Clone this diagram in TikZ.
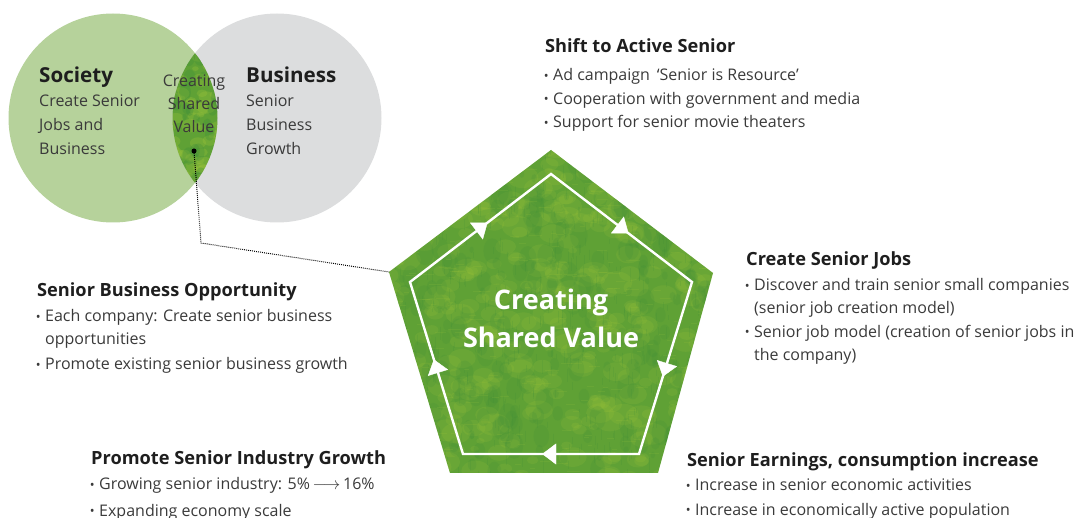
\documentclass[tikz,border=0pt]{standalone}
\usepackage{graphicx}
\usepackage{fontspec}
\setmainfont{Open Sans}
\usetikzlibrary{decorations.markings,arrows.meta}

\definecolor{society}{HTML}{B6D29B}
\definecolor{business}{HTML}{DCDDDE}
\definecolor{leaf}{HTML}{5FA135}
\definecolor{leaflight}{HTML}{A2C63C}
\definecolor{leafdark}{HTML}{3B8C3A}
\definecolor{ink}{HTML}{1E1E1E}
\definecolor{bodytext}{HTML}{3A3A3A}

% bullet hanging to the left of the item text
\newcommand{\blt}{\makebox[0pt][r]{\raisebox{0.5pt}{\scalebox{0.8}{•}}\hspace{4.5pt}}}

\begin{document}
\begin{tikzpicture}[x=1pt,y=-1pt,
  head/.style={font=\fontsize{18.2}{21}\selectfont\bfseries, text=ink, anchor=base west, inner sep=0pt},
  item/.style={font=\fontsize{16}{19}\selectfont, text=bodytext, anchor=base west, inner sep=0pt},
  vennhead/.style={font=\fontsize{20.6}{24}\selectfont\bfseries, text=ink, anchor=base west, inner sep=0pt},
  vennitem/.style={font=\fontsize{16}{20}\selectfont, text=bodytext, anchor=base west, inner sep=0pt},
  lenstext/.style={font=\fontsize{16}{20}\selectfont, text=bodytext, anchor=base, inner sep=0pt},
  titletext/.style={font=\fontsize{27}{31}\selectfont\bfseries, text=white, anchor=base, inner sep=0pt},
  cycleline/.style={draw=white, line width=2.4pt, line join=miter},
  cyclearrow/.style={postaction={decorate, decoration={markings,
      mark=at position 0.55 with {\arrow{Triangle[width=21pt,length=14pt]}}}}},
  leader/.style={draw=black, line width=1pt, dash pattern=on 0.9pt off 1.1pt},
]
\useasboundingbox (0,0) rectangle (1077,518);

% ---------- Venn diagram ----------
\coordinate (socC) at (113,118);
\coordinate (busC) at (277,118);
\fill[society] (socC) circle (104.5);
\fill[business] (busC) circle (104.5);
\begin{scope}
  \clip (socC) circle (104.5);
  \clip (busC) circle (104.5);
  \fill[leaf] (160,0) rectangle (230,240);
  \pgfmathsetseed{5}
  \foreach \i in {1,...,90}{
    \pgfmathsetmacro{\px}{165+60*rnd}
    \pgfmathsetmacro{\py}{10+220*rnd}
    \pgfmathsetmacro{\rr}{3+7*rnd}
    \fill[leaflight, opacity=0.28] (\px,\py) ellipse ({\rr} and {\rr*0.7});
  }
  \foreach \i in {1,...,60}{
    \pgfmathsetmacro{\px}{165+60*rnd}
    \pgfmathsetmacro{\py}{10+220*rnd}
    \pgfmathsetmacro{\rr}{3+6*rnd}
    \fill[leafdark, opacity=0.28] (\px,\py) ellipse ({\rr*0.7} and {\rr});
  }
\end{scope}

\node[vennhead] (soc) at (39,83) {Society};
\node[vennitem] (soc1) at (39,107) {Create Senior};
\node[vennitem] (soc2) at (39,131) {Jobs and};
\node[vennitem] (soc3) at (39,155) {Business};

\node[vennhead] (bus) at (246,83) {Business};
\node[vennitem] (bus1) at (246,107) {Senior};
\node[vennitem] (bus2) at (246,131) {Business};
\node[vennitem] (bus3) at (246,155) {Growth};

\node[lenstext] (csv1) at (194,87) {Creating};
\node[lenstext] (csv2) at (194,110) {Shared};
\node[lenstext] (csv3) at (194,133) {Value};

\node[circle, fill=black, inner sep=0pt, minimum size=5pt] (dot) at (194,151) {};

% ---------- Pentagon ----------
\coordinate (T) at (551,150);
\coordinate (R) at (713,273);
\coordinate (BR) at (658,473);
\coordinate (BL) at (450,473);
\coordinate (L) at (389,272);

\begin{scope}
  \clip (T) -- (R) -- (BR) -- (BL) -- (L) -- cycle;
  \fill[leaf] (380,140) rectangle (720,480);
  \pgfmathsetseed{11}
  \foreach \i in {1,...,420}{
    \pgfmathsetmacro{\px}{380+340*rnd}
    \pgfmathsetmacro{\py}{140+340*rnd}
    \pgfmathsetmacro{\rr}{4+12*rnd}
    \fill[leaflight, opacity=0.16] (\px,\py) ellipse ({\rr} and {\rr*0.7});
  }
  \foreach \i in {1,...,320}{
    \pgfmathsetmacro{\px}{380+340*rnd}
    \pgfmathsetmacro{\py}{140+340*rnd}
    \pgfmathsetmacro{\rr}{3+10*rnd}
    \fill[leafdark, opacity=0.16] (\px,\py) ellipse ({\rr*0.7} and {\rr});
  }
  \foreach \i in {1,...,500}{
    \pgfmathsetmacro{\px}{380+340*rnd}
    \pgfmathsetmacro{\py}{140+340*rnd}
    \pgfmathsetmacro{\ll}{4+10*rnd}
    \draw[leafdark, opacity=0.15, line width=0.8pt] (\px,\py) -- ++(0,\ll);
  }
  \foreach \i in {1,...,300}{
    \pgfmathsetmacro{\px}{380+340*rnd}
    \pgfmathsetmacro{\py}{140+340*rnd}
    \pgfmathsetmacro{\ll}{4+10*rnd}
    \draw[leaflight, opacity=0.15, line width=0.8pt] (\px,\py) -- ++(\ll,0);
  }
\end{scope}

% inner cycle with arrows
\coordinate (t) at (551,174);
\coordinate (r) at (692,282);
\coordinate (br) at (639,454);
\coordinate (bl) at (463,454);
\coordinate (l) at (410,282);
\draw[cycleline] (l) -- (t) -- (r) -- (br) -- (bl) -- cycle;
\foreach \a/\b in {l/t, t/r, r/br, br/bl, bl/l}{
  \path[cyclearrow, white] (\a) -- (\b);
}

\node[titletext] (title1) at (551,310) {Creating};
\node[titletext] (title2) at (551,348) {Shared Value};

% dotted leader from the lens to the pentagon
\draw[leader] (dot.center) -- (201,243) -- (L);

% ---------- Text blocks ----------
\node[head] (shiftH) at (545,53) {Shift to Active Senior};
\node[item] (shift1) at (553,81) {\blt Ad campaign \,‘Senior is Resource’};
\node[item] (shift2) at (553,104.5) {\blt Cooperation with government and media};
\node[item] (shift3) at (553,128) {\blt Support for senior movie theaters};

\node[head] (jobsH) at (746,266) {Create Senior Jobs};
\node[item] (jobs1) at (754,291) {\blt Discover and train senior small companies};
\node[item] (jobs2) at (754,314) {(senior job creation model)};
\node[item] (jobs3) at (754,337.5) {\blt Senior job model (creation of senior jobs in};
\node[item] (jobs4) at (754,361) {the company)};

\node[head] (earnH) at (687,467) {Senior Earnings, consumption increase};
\node[item] (earn1) at (695,491) {\blt Increase in senior economic activities};
\node[item] (earn2) at (695,515) {\blt Increase in economically active population};

\node[head] (oppH) at (37,297) {Senior Business Opportunity};
\node[item] (opp1) at (45,322) {\blt Each company: Create senior business};
\node[item] (opp2) at (45,345) {opportunities};
\node[item] (opp3) at (45,370) {\blt Promote existing senior business growth};

\node[head] (indH) at (91,465) {Promote Senior Industry Growth};
\node[item] (ind1) at (99,490) {\blt Growing senior industry: 5\%\,$\longrightarrow$\,16\%};
\node[item] (ind2) at (99,516) {\blt Expanding economy scale};

\end{tikzpicture}
\end{document}
